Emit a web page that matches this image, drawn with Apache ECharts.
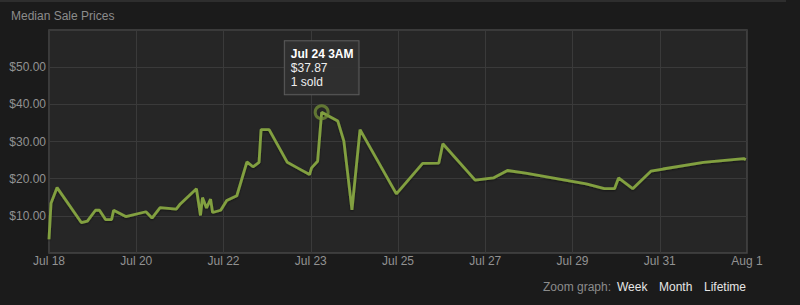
<!DOCTYPE html>
<html>
<head>
<meta charset="utf-8">
<script src="https://cdn.jsdelivr.net/npm/echarts@6/dist/echarts.min.js"></script>
<style>
html,body{margin:0;padding:0;background:#1b1b1b;}
#chart{width:800px;height:305px;}
</style>
</head>
<body>
<div id="chart"></div>
<script>
// ---- data ----
const saleTimes = [
  '2014-07-18 12:00','2014-07-18 13:00','2014-07-18 16:00','2014-07-19 04:00','2014-07-19 07:00',
  '2014-07-19 11:00','2014-07-19 13:00','2014-07-19 16:00','2014-07-19 19:00','2014-07-19 20:00',
  '2014-07-20 02:00','2014-07-20 12:00','2014-07-20 15:00','2014-07-20 19:00','2014-07-21 03:00',
  '2014-07-21 05:00','2014-07-21 13:00','2014-07-21 15:00','2014-07-21 16:00','2014-07-21 18:00',
  '2014-07-21 20:00','2014-07-21 21:00','2014-07-22 01:00','2014-07-22 04:00','2014-07-22 09:00',
  '2014-07-22 14:00','2014-07-22 17:00','2014-07-22 20:00','2014-07-22 21:00','2014-07-23 01:00',
  '2014-07-23 10:00','2014-07-23 15:00','2014-07-23 21:00','2014-07-23 22:00','2014-07-24 01:00',
  '2014-07-24 03:00','2014-07-24 11:00','2014-07-24 14:00','2014-07-24 18:00','2014-07-24 22:00',
  '2014-07-25 16:00','2014-07-26 05:00','2014-07-26 13:00','2014-07-26 15:00','2014-07-27 07:00',
  '2014-07-27 16:00','2014-07-27 23:00','2014-07-28 08:00','2014-07-29 14:00','2014-07-29 23:00',
  '2014-07-30 04:00','2014-07-30 06:00','2014-07-30 13:00','2014-07-30 22:00','2014-07-31 04:00',
  '2014-08-01 00:00','2014-08-01 20:00','2014-08-01 21:00'
];
const medianPrices = [
  3.7, 13.4, 17.6, 8.2, 8.6,
  11.5, 11.5, 9.0, 9.0, 11.5,
  9.8, 11.1, 9.4, 12.2, 11.8,
  13.2, 17.3, 10.1, 14.9, 12.1,
  14.5, 10.9, 11.5, 14.1, 15.4,
  24.5, 23.2, 24.4, 33.2, 33.2,
  24.4, 22.9, 21.1, 22.9, 24.7,
  37.87, 35.5, 30.1, 11.6, 33.2,
  15.9, 24.1, 24.2, 29.4, 19.6,
  20.2, 22.2, 21.5, 18.6, 17.3,
  17.3, 20.2, 17.3, 22.0, 22.6,
  24.4, 25.4, 25.1
];
const axisStart = '2014-07-18 12:00';   // x axis origin
const axisSpanDays = 14.4;
const axisStepDays = 1.8;
const yTicks = [0, 10, 20, 30, 40, 50, 60];
const highlightIndex = 35;
const highlightLabel = 'Jul 24 3AM';
const highlightSold = '1 sold';
const zoomLabels = ['Week', 'Month', 'Lifetime'];
const titleText = 'Median Sale Prices';
const monthNames = ['Jan','Feb','Mar','Apr','May','Jun','Jul','Aug','Sep','Oct','Nov','Dec'];

// ---- helpers ----
function parseUTC(s){
  const [d, t] = s.split(' ');
  const [Y, M, D] = d.split('-').map(Number);
  const [h, m] = t.split(':').map(Number);
  return Date.UTC(Y, M - 1, D, h, m);
}
const t0 = parseUTC(axisStart);
const dayMs = 86400000;
const seriesData = saleTimes.map((s, i) => [(parseUTC(s) - t0) / dayMs, medianPrices[i]]);
function fmtDay(v){
  const d = new Date(t0 + v * dayMs);
  return monthNames[d.getUTCMonth()] + ' ' + d.getUTCDate();
}

const font = '"Liberation Sans", Arial, Helvetica, sans-serif';
const chart = echarts.init(document.getElementById('chart'), null, {renderer: 'svg'});
chart.setOption({
  animation: false,
  backgroundColor: '#1b1b1b',
  textStyle: {fontFamily: font},
  grid: {
    left: 49, right: 53, top: 30, bottom: 52,
    show: true, backgroundColor: '#262626', borderColor: '#474747', borderWidth: 1.5
  },
  xAxis: {
    type: 'value',
    min: 0, max: axisSpanDays, interval: axisStepDays,
    axisLine: {show: false}, axisTick: {show: false},
    splitLine: {show: true, lineStyle: {color: '#3a3a3a', width: 1}},
    axisLabel: {color: '#929292', fontSize: 12, fontFamily: font, margin: 2, formatter: fmtDay}
  },
  yAxis: {
    type: 'value',
    min: yTicks[0], max: yTicks[yTicks.length - 1], interval: yTicks[1] - yTicks[0],
    axisLine: {show: false}, axisTick: {show: false},
    splitLine: {show: true, lineStyle: {color: '#3a3a3a', width: 1}},
    axisLabel: {
      color: '#929292', fontSize: 12, fontFamily: font, margin: 3,
      showMinLabel: false, showMaxLabel: false,
      formatter: v => '$' + v.toFixed(2)
    }
  },
  series: [{
    type: 'line',
    data: seriesData,
    showSymbol: false,
    lineStyle: {color: '#82a040', width: 2.8, shadowColor: 'rgba(0,0,0,0.45)', shadowBlur: 2, shadowOffsetY: 1},
    markPoint: {
      symbol: 'circle',
      symbolSize: 13,
      itemStyle: {color: 'rgba(0,0,0,0)', borderColor: 'rgba(118,146,56,0.75)', borderWidth: 3},
      label: {
        show: true,
        position: 'top',
        distance: 10,
        backgroundColor: 'rgba(48,48,48,0.92)',
        borderColor: '#5c5c5c',
        borderWidth: 1,
        padding: [6, 5, 5, 6],
        formatter: p => '{t|' + highlightLabel + '}\n{v|$' + p.value.toFixed(2) + '}\n{v|' + highlightSold + '}',
        rich: {
          t: {color: '#ffffff', fontWeight: 'bold', fontSize: 12, lineHeight: 14, align: 'left', fontFamily: font},
          v: {color: '#eeeeee', fontSize: 12, lineHeight: 14, align: 'left', fontFamily: font}
        }
      },
      data: [{coord: seriesData[highlightIndex], value: medianPrices[highlightIndex]}]
    }
  }],
  graphic: [
    {type: 'rect', left: 0, top: 0, shape: {width: 786, height: 2}, style: {fill: '#2e2e2e'}, silent: true},
    {type: 'text', left: 11, top: 10, style: {text: titleText, fill: '#8c8c8c', font: '12px ' + font}},
    {type: 'text', left: 543, top: 281, style: {text: 'Zoom graph:', fill: '#8c8c8c', font: '12px ' + font}},
    {type: 'text', left: 617, top: 281, style: {text: zoomLabels[0], fill: '#e6e6e6', font: '12px ' + font}},
    {type: 'text', left: 659, top: 281, style: {text: zoomLabels[1], fill: '#e6e6e6', font: '12px ' + font}},
    {type: 'text', left: 704, top: 281, style: {text: zoomLabels[2], fill: '#e6e6e6', font: '12px ' + font}}
  ]
});
</script>
</body>
</html>
